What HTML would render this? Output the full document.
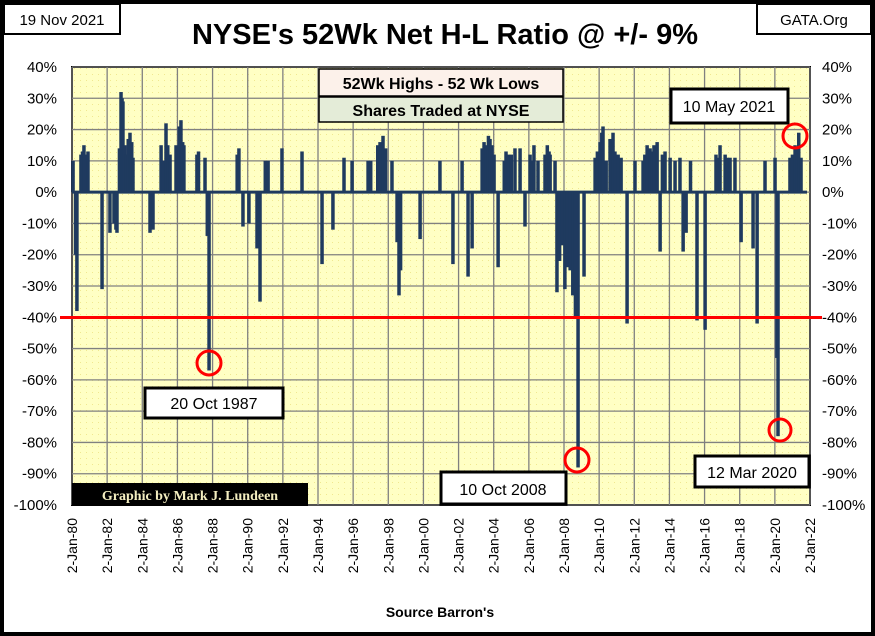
<!DOCTYPE html>
<html><head><meta charset="utf-8"><style>
body{margin:0;background:#fff;}
svg{display:block;font-family:"Liberation Sans",Arial,sans-serif;}
</style></head><body>
<svg id="chart" width="875" height="636" viewBox="0 0 875 636">
<defs>
<pattern id="dots" width="6" height="6" patternUnits="userSpaceOnUse"><rect width="6" height="6" fill="#ffffc4"/><rect x="2" y="2" width="1" height="1" fill="#f0e890"/></pattern>
</defs>
<rect x="2" y="2" width="871" height="632" fill="#fff" stroke="#000" stroke-width="4"/>
<rect x="72" y="67" width="738" height="438" fill="url(#dots)" stroke="#000" stroke-width="2"/>
<g id="grid"></g>
<g id="bars"></g>
<g id="axes"></g>
<line x1="60" x2="822" y1="317.5" y2="317.5" stroke="#f00" stroke-width="3"/>
<g><rect x="4" y="4" width="116" height="30" fill="#fff" stroke="#000" stroke-width="2"/><text x="62" y="25" text-anchor="middle" font-size="15">19 Nov 2021</text></g>
<text x="445" y="44" text-anchor="middle" font-size="29" font-weight="bold">NYSE's 52Wk Net H-L Ratio @ +/- 9%</text>
<g><rect x="757" y="4" width="114" height="30" fill="#fff" stroke="#000" stroke-width="2"/><text x="814" y="25" text-anchor="middle" font-size="15">GATA.Org</text></g>
<g>
<rect x="319" y="69" width="244" height="27" fill="#fcf1ea" stroke="#000" stroke-width="1.5"/>
<text x="441" y="89" text-anchor="middle" font-size="16" font-weight="bold">52Wk Highs - 52 Wk Lows</text>
<rect x="319" y="97" width="244" height="25" fill="#e4ecd8" stroke="#000" stroke-width="1.5"/>
<text x="441" y="116" text-anchor="middle" font-size="16" font-weight="bold">Shares Traded at NYSE</text>
</g>
<g><rect x="671" y="89" width="117" height="34" fill="#fff" stroke="#000" stroke-width="3"/><text x="729" y="112" text-anchor="middle" font-size="16">10 May 2021</text></g>
<g><rect x="145" y="388" width="138" height="30" fill="#fff" stroke="#000" stroke-width="3"/><text x="214" y="409" text-anchor="middle" font-size="16">20 Oct 1987</text></g>
<g><rect x="441" y="472" width="125" height="32" fill="#fff" stroke="#000" stroke-width="3"/><text x="503" y="495" text-anchor="middle" font-size="16">10 Oct 2008</text></g>
<g><rect x="695" y="456" width="114" height="31" fill="#fff" stroke="#000" stroke-width="3"/><text x="752" y="478" text-anchor="middle" font-size="16">12 Mar 2020</text></g>
<g><rect x="72" y="483" width="236" height="23" fill="#000"/><text x="190" y="500" text-anchor="middle" font-size="14" font-weight="bold" fill="#f4eec0" font-family="Liberation Serif,serif">Graphic by Mark J. Lundeen</text></g>
<g fill="none" stroke="#f00" stroke-width="3">
<circle cx="209" cy="363" r="12"/>
<circle cx="577" cy="460" r="12"/>
<circle cx="780" cy="430" r="11"/>
<circle cx="795" cy="136" r="12"/>
</g>
<text x="440" y="617" text-anchor="middle" font-size="14" font-weight="bold">Source Barron's</text>
</svg>
<script>
const yTicks=[40,30,20,10,0,-10,-20,-30,-40,-50,-60,-70,-80,-90,-100];
const xTickYears=[1980,1982,1984,1986,1988,1990,1992,1994,1996,1998,2000,2002,2004,2006,2008,2010,2012,2014,2016,2018,2020,2022];
const dates=[1980.06,1980.2,1980.28,1980.51,1980.6,1980.68,1980.8,1980.91,1981.71,1982.16,1982.39,1982.5,1982.56,1982.7,1982.79,1982.85,1982.9,1983.0,1983.07,1983.2,1983.3,1983.4,1983.47,1984.44,1984.61,1985.07,1985.2,1985.35,1985.45,1985.58,1985.92,1986.1,1986.2,1986.3,1986.37,1987.11,1987.2,1987.57,1987.7,1987.8,1989.4,1989.5,1989.73,1990.07,1990.53,1990.7,1991.0,1991.16,1991.95,1993.09,1994.23,1994.85,1995.48,1995.94,1996.85,1997.0,1997.4,1997.53,1997.7,1997.85,1998.21,1998.5,1998.61,1998.7,1999.81,2000.94,2001.68,2002.2,2002.54,2002.77,2003.34,2003.45,2003.56,2003.7,2003.79,2003.9,2004.02,2004.25,2004.6,2004.7,2004.85,2005.0,2005.21,2005.5,2005.78,2006.07,2006.2,2006.29,2006.52,2006.92,2007.05,2007.15,2007.21,2007.49,2007.6,2007.75,2007.89,2008.05,2008.17,2008.35,2008.5,2008.65,2008.8,2009.14,2009.77,2009.9,2010.05,2010.15,2010.22,2010.4,2010.62,2010.79,2010.9,2011.08,2011.25,2011.59,2012.04,2012.5,2012.6,2012.73,2012.9,2013.0,2013.12,2013.3,2013.47,2013.6,2013.75,2014.04,2014.32,2014.6,2014.78,2014.95,2015.2,2015.57,2016.03,2016.65,2016.75,2016.88,2017.17,2017.3,2017.45,2017.73,2018.08,2018.76,2018.99,2019.44,2020.01,2020.12,2020.18,2020.86,2021.0,2021.15,2021.3,2021.36,2021.49];
const values=[10,-20,-38,12,13,15,12,13,-31,-13,-10,-12,-13,14,32,30,29,15,12,17,19,16,11,-13,-12,15,10,22,15,12,15,21,23,16,15,12,13,11,-14,-57,12,14,-11,-10,-18,-35,10,10,14,13,-23,-12,11,10,10,10,15,16,18,14,10,-16,-33,-25,-15,10,-23,10,-27,-18,14,16,15,18,17,15,12,-24,10,13,12,12,14,14,-11,12,10,15,10,12,15,13,12,10,-32,-22,-17,-31,-24,-25,-33,-40,-88,-27,11,13,16,19,21,10,17,19,13,12,11,-42,10,10,12,15,14,13,15,16,-19,12,13,11,10,11,-19,-13,10,-41,-44,12,11,15,12,11,11,11,-16,-18,-42,10,11,-53,-78,11,12,15,14,19,11];
const NS='http://www.w3.org/2000/svg';
const X0=72,X1=810,Y0=67,Y1=505;
function xs(yr){return X0+(yr-1980)/(2022-1980)*(X1-X0);}
function ys(v){return Y0+(40-v)/140*(Y1-Y0);}
function mk(tag,attrs,parent){const e=document.createElementNS(NS,tag);for(const k in attrs)e.setAttribute(k,attrs[k]);parent.appendChild(e);return e;}
const grid=document.getElementById('grid'),axes=document.getElementById('axes'),bars=document.getElementById('bars');
yTicks.forEach(v=>{
  const l=mk('line',{x1:X0,x2:X1,y1:ys(v),y2:ys(v),stroke:'#808080','stroke-width':1.3},grid);
  
  
  const t=mk('text',{x:57,y:ys(v)+5,'text-anchor':'end','font-size':15},axes);t.textContent=v+'%';
  
  
  const t2=mk('text',{x:822,y:ys(v)+5,'font-size':15},axes);t2.textContent=v+'%';
  
  
});
const mon=y=>'2-Jan-'+String(y%100).padStart(2,'0');
xTickYears.forEach(y=>{
  const x=xs(y);
  const l=mk('line',{x1:x,x2:x,y1:Y0,y2:Y1,stroke:'#808080','stroke-width':1.3},grid);
  
  
  const t=mk('text',{x:0,y:0,'text-anchor':'end','font-size':14,transform:'translate('+(x+5)+',518) rotate(-90)'},axes);
  t.textContent=mon(y);
  
  
});
const zl=mk('line',{x1:X0,x2:X1-3,y1:ys(0),y2:ys(0),stroke:'#1f3a5f','stroke-width':3},bars);


dates.forEach((d,i)=>{
  const v=values[i],x=xs(d),y=ys(Math.max(v,0)),h=Math.abs(ys(v)-ys(0));
  const r=mk('rect',{x:x-1.75,y:y,width:3.5,height:h,fill:'#1f3a5f'},bars);
  
  
});
</script>
</body></html>
